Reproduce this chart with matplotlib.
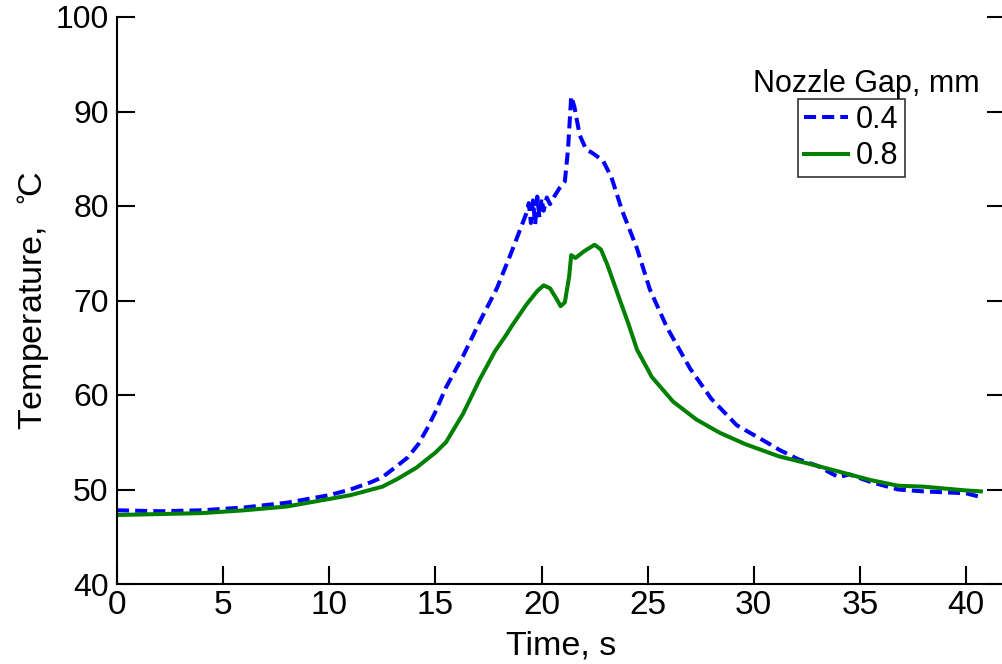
import matplotlib
matplotlib.use("Agg")
import matplotlib.pyplot as plt
from matplotlib import font_manager

# ---- data ----
t_04 = [0, 2, 4, 6, 8, 10, 11, 12, 12.5, 13.2, 13.7, 14.2, 14.6, 15, 15.5, 16.3,
        17.1, 17.9, 18.6, 19.3, 19.4, 19.5, 19.6, 19.7, 19.8, 19.9, 20.0, 20.1,
        20.25, 20.4, 20.6, 20.85, 21.1, 21.25, 21.4, 21.55, 21.8, 22.1, 22.4,
        22.9, 23.3, 23.8, 24.5, 25.1, 25.9, 27, 28, 29.2, 30.6, 31.2, 32.1, 33,
        34, 34.5, 35.5, 36.8, 38, 39, 40, 40.7]
y_04 = [47.8, 47.7, 47.8, 48.1, 48.6, 49.4, 50.0, 50.8, 51.3, 52.5, 53.4, 54.8,
        56.4, 58.2, 60.8, 64.1, 67.8, 71.3, 75.2, 79.3, 80.3, 78.2, 80.6, 78.0,
        81.0, 78.8, 80.8, 79.5, 80.9, 80.2, 81.0, 81.9, 82.6, 86.0, 91.6, 90.5,
        87.5, 86.0, 85.6, 84.8, 83.0, 79.5, 75.5, 71.2, 67.2, 62.8, 59.6, 56.8,
        55.0, 54.2, 53.2, 52.5, 51.3, 51.6, 50.8, 50.0, 49.8, 49.7, 49.6, 49.2]

t_08 = [0, 2, 4, 6, 8, 10, 11, 12, 12.5, 13.2, 14.1, 15, 15.5, 16.3, 17.1, 17.8,
        18.35, 18.6, 19.3, 19.8, 20.1, 20.4, 20.7, 20.9, 21.1, 21.3, 21.4, 21.6,
        22.0, 22.5, 22.8, 23.1, 23.7, 24.1, 24.5, 25.2, 26.2, 27.3, 28.4, 29.6,
        31.2, 32.1, 33, 34.5, 35.5, 36.8, 38, 39, 40, 40.7]
y_08 = [47.3, 47.4, 47.5, 47.8, 48.2, 49.0, 49.4, 50.0, 50.3, 51.1, 52.3, 53.9,
        55.0, 58.0, 61.7, 64.6, 66.4, 67.3, 69.6, 71.0, 71.6, 71.3, 70.2, 69.4,
        69.8, 72.5, 74.8, 74.5, 75.2, 75.9, 75.4, 73.8, 70.0, 67.5, 64.8, 61.9,
        59.3, 57.4, 56.0, 54.8, 53.5, 53.0, 52.5, 51.6, 51.0, 50.4, 50.3, 50.1,
        49.9, 49.8]

series_labels = ["0.4", "0.8"]
legend_title = "Nozzle Gap, mm"
x_ticks = [0, 5, 10, 15, 20, 25, 30, 35, 40]
y_ticks = [40, 50, 60, 70, 80, 90, 100]

# ---- fonts ----
available = {f.name for f in font_manager.fontManager.ttflist}
base_font = "Liberation Sans" if "Liberation Sans" in available else "DejaVu Sans"
plt.rcParams["font.family"] = [base_font, "DejaVu Sans"]
plt.rcParams["mathtext.fontset"] = "dejavusans"

W, H = 1002, 664
fig = plt.figure(figsize=(W / 100, H / 100), dpi=100)
left_px, right_px, top_px, bottom_px = 117, 1005, 17, 584
ax = fig.add_axes([left_px / W, 1 - bottom_px / H,
                   (right_px - left_px) / W, (bottom_px - top_px) / H])

ax.plot(t_04, y_04, color=(0, 0, 1), lw=2.9, linestyle=(0, (3.0, 1.5)),
        dash_capstyle="butt", label=series_labels[0])
ax.plot(t_08, y_08, color=(0, 0.5, 0), lw=2.9, label=series_labels[1])

ax.set_xlim(0, (right_px - left_px) / ((966 - 117) / 40))
ax.set_ylim(40, 100)
ax.set_xticks(x_ticks)
ax.set_yticks(y_ticks)
ax.spines["top"].set_visible(False)
for s in ["left", "bottom", "right"]:
    ax.spines[s].set_linewidth(1.5)
ax.tick_params(axis="both", direction="in", length=13, width=1.5,
               labelsize=23, pad=5)
ax.tick_params(axis="y", right=True, left=True, pad=6)
ax.tick_params(axis="x", top=False, labelsize=24, pad=4)

ax.set_xlabel("Time, s", fontsize=24.5, labelpad=7)
ax.set_ylabel("Temperature,  $^{\\circ}\\!$C", fontsize=24.5, labelpad=2)

leg = fig.legend(loc="upper left", bbox_to_anchor=(798 / W, 1 - 99 / H),
                 fontsize=22, frameon=True, fancybox=False, borderaxespad=0,
                 handlelength=1.45, handletextpad=0.25, labelspacing=0.2,
                 borderpad=0.2)
leg.get_frame().set_edgecolor("black")
leg.get_frame().set_linewidth(1.2)
fig.text(866 / W, 1 - 92 / H, legend_title, ha="center", va="baseline",
         fontsize=22)

fig.savefig("out.png", dpi=100)
